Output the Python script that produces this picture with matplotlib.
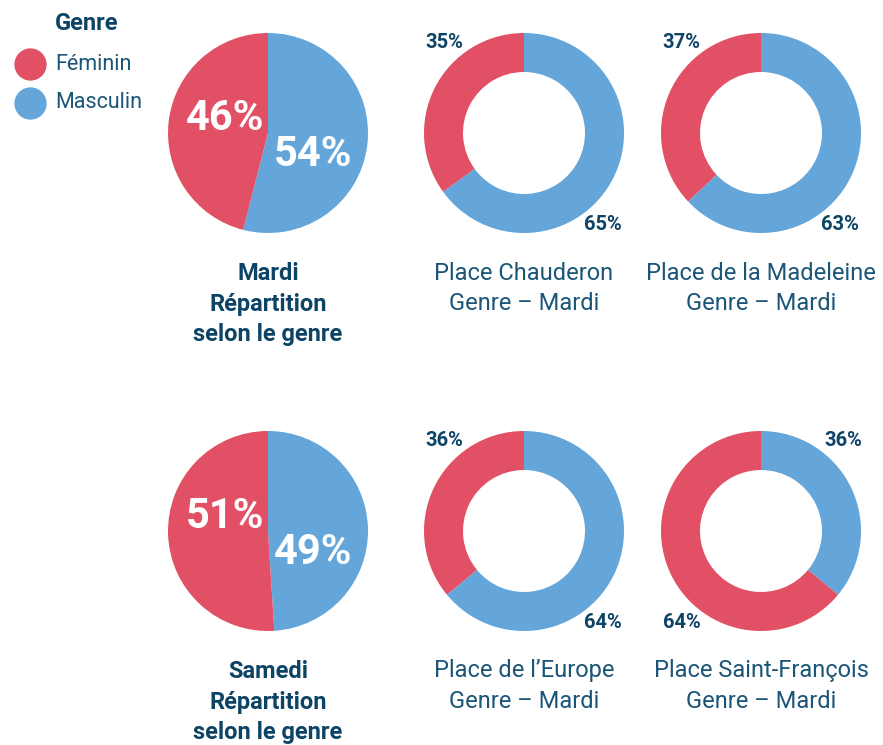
import matplotlib
matplotlib.use("Agg")
import matplotlib.pyplot as plt

plt.rcParams["font.family"] = ["Roboto", "DejaVu Sans"]

# parts Masculin / Féminin (en %)
genres = ["Masculin", "Féminin"]
couleurs = {"Féminin": "#e15065", "Masculin": "#64a5da"}

repartition = [
    # (titre, masculin, féminin, type)
    (["Mardi", "Répartition", "selon le genre"], 54, 46, "pie"),
    (["Place Chauderon", "Genre – Mardi"], 65, 35, "donut"),
    (["Place de la Madeleine", "Genre – Mardi"], 63, 37, "donut"),
    (["Samedi", "Répartition", "selon le genre"], 49, 51, "pie"),
    (["Place de l’Europe", "Genre – Mardi"], 64, 36, "donut"),
    (["Place Saint-François", "Genre – Mardi"], 36, 64, "donut"),
]

W, H = 883, 745
navy = "#0d4466"
navy_txt = "#1b5577"

fig = plt.figure(figsize=(W / 100, H / 100), dpi=100)
ax = fig.add_axes([0, 0, 1, 1])
ax.set_xlim(0, W)
ax.set_ylim(0, H)
ax.set_aspect("equal")
ax.axis("off")

centres = [(268, 133), (524, 133), (761, 133), (268, 531), (524, 531), (761, 531)]
R = 100

for (titre, masc, fem, kind), (cx, cy) in zip(repartition, centres):
    y0 = H - cy
    vals = [masc, fem]
    cols = [couleurs["Masculin"], couleurs["Féminin"]]
    if kind == "pie":
        ax.pie(vals, colors=cols, startangle=90, counterclock=False,
               center=(cx, y0), radius=R, frame=True,
               wedgeprops=dict(linewidth=0))
        # gros pourcentages blancs dans la tarte
        ax.text(cx - 43, y0 + 15, f"{fem}%", color="white", fontsize=30,
                fontweight="bold", ha="center", va="center")
        ax.text(cx + 45, y0 - 22, f"{masc}%", color="white", fontsize=30,
                fontweight="bold", ha="center", va="center")
        for i, ligne in enumerate(titre):
            ax.text(cx, y0 - 140 - 31 * i, ligne, color=navy, fontsize=17,
                    fontweight="bold", ha="center", va="center")
    else:
        ax.pie(vals, colors=cols, startangle=90, counterclock=False,
               center=(cx, y0), radius=R, frame=True,
               wedgeprops=dict(width=R * 0.39, linewidth=0))
        # le plus petit segment en haut, le plus grand en bas
        petit_masc = masc < fem
        top_x = cx + 82 if petit_masc else cx - 80
        bot_x = cx - 79 if petit_masc else cx + 79
        ax.text(top_x, y0 + 91, f"{min(vals)}%", color=navy, fontsize=14.5,
                fontweight="bold", ha="center", va="center")
        ax.text(bot_x, y0 - 92, f"{max(vals)}%", color=navy, fontsize=14.5,
                fontweight="bold", ha="center", va="center")
        for i, ligne in enumerate(titre):
            ax.text(cx, y0 - 140 - 31 * i, ligne, color=navy_txt, fontsize=17,
                    ha="center", va="center")

ax.set_xlim(0, W)
ax.set_ylim(0, H)

# légende
ax.text(55, H - 24, "Genre", color=navy, fontsize=17, fontweight="bold",
        ha="left", va="center")
for i, g in enumerate(["Féminin", "Masculin"]):
    y = H - 64 - 39 * i
    ax.scatter([30], [y], s=540, color=couleurs[g], linewidths=0)
    ax.text(55, y, g, color=navy_txt, fontsize=15.5, ha="left", va="center")

fig.savefig("out.png", dpi=100, facecolor="white")
